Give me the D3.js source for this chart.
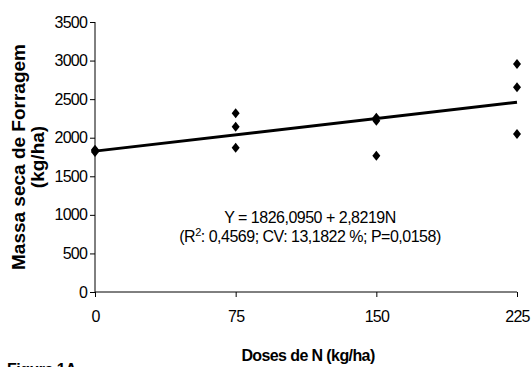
<!DOCTYPE html>
<html>
<head>
<meta charset="utf-8">
<script src="https://cdn.jsdelivr.net/npm/d3@7"></script>
<style>
  body { margin: 0; background: #fff; }
  text { font-family: "Liberation Sans", Arial, sans-serif; fill: #000; }
  .axis path, .axis line { stroke: #000; stroke-width: 1; }
  .axis text { font-size: 16px; letter-spacing: -0.8px; }
</style>
</head>
<body>
<div class="container"></div>
<script>
// data
var doses = [0, 0, 0, 75, 75, 75, 150, 150, 150, 225, 225, 225];
var massa = [1830, 1815, 1845, 2316, 2143, 1871, 2260, 2220, 1765, 2956, 2654, 2048];
var xTicks = [0, 75, 150, 225];
var yTicks = [0, 500, 1000, 1500, 2000, 2500, 3000, 3500];
var intercept = 1826.0950, slope = 2.8219;

var width = 532, height = 367;

var x = d3.scaleLinear().domain([0, 225]).range([95, 517]);
var y = d3.scaleLinear().domain([0, 3500]).range([292, 22]);

var svg = d3.select(".container")
    .append("svg")
    .attr("width", width)
    .attr("height", height);

svg.append("g")
    .attr("class", "axis")
    .attr("transform", "translate(0," + y(0) + ")")
    .call(d3.axisBottom(x).tickValues(xTicks).tickFormat(d3.format("d"))
      .tickSize(5).tickSizeOuter(0).tickPadding(14))
    .call(function(g) { g.select(".domain").attr("d", "M" + x(0) + ",0H" + x(225)); });

svg.append("g")
    .attr("class", "axis")
    .attr("transform", "translate(" + x(0) + ",0)")
    .call(d3.axisLeft(y).tickValues(yTicks).tickFormat(d3.format("d"))
      .tickSize(5).tickSizeOuter(0).tickPadding(3))
    .call(function(g) { g.select(".domain").attr("d", "M0," + y(0) + "V" + y(3500)); });

// regression line
var line = d3.line()
    .x(function(d) { return x(d); })
    .y(function(d) { return y(intercept + slope * d); });

svg.append("path")
    .datum([0, 225])
    .attr("d", line)
    .attr("fill", "none")
    .attr("stroke", "#000")
    .attr("stroke-width", 3);

// diamonds
svg.selectAll(".pt")
    .data(doses)
    .enter().append("path")
    .attr("class", "pt")
    .attr("d", function(d, i) {
      var cx = x(d), cy = y(massa[i]);
      return "M" + cx + "," + (cy - 5) + "L" + (cx + 4) + "," + cy +
             "L" + cx + "," + (cy + 5) + "L" + (cx - 4) + "," + cy + "Z";
    })
    .attr("fill", "#000");

// equation
svg.append("text")
    .attr("x", 310).attr("y", 223)
    .attr("text-anchor", "middle")
    .style("font-size", "16px").style("letter-spacing", "-0.5px")
    .text("Y = 1826,0950 + 2,8219N");

var eq2 = svg.append("text")
    .attr("x", 310).attr("y", 242)
    .attr("text-anchor", "middle")
    .style("font-size", "16px").style("letter-spacing", "-0.5px");
eq2.append("tspan").text("(R");
eq2.append("tspan").attr("dy", -6).style("font-size", "11px").text("2");
eq2.append("tspan").attr("dy", 6).text(": 0,4569; CV: 13,1822 %; P=0,0158)");

// axis titles
svg.append("text")
    .attr("x", 308).attr("y", 361)
    .attr("text-anchor", "middle")
    .style("font-size", "16px").style("font-weight", "bold").style("letter-spacing", "-0.6px")
    .text("Doses de N (kg/ha)");

var yl = svg.append("text")
    .attr("transform", "translate(25,157) rotate(-90)")
    .attr("text-anchor", "middle")
    .style("font-size", "19px").style("font-weight", "bold");
yl.append("tspan").attr("x", 0).attr("y", 0).text("Massa seca de Forragem");
yl.append("tspan").attr("x", 0).attr("y", 19).text("(kg/ha)");

svg.append("text")
    .attr("x", 7).attr("y", 375)
    .style("font-size", "16px").style("font-weight", "bold").style("letter-spacing", "-0.5px")
    .text("Figura 1A");
</script>
</body>
</html>
